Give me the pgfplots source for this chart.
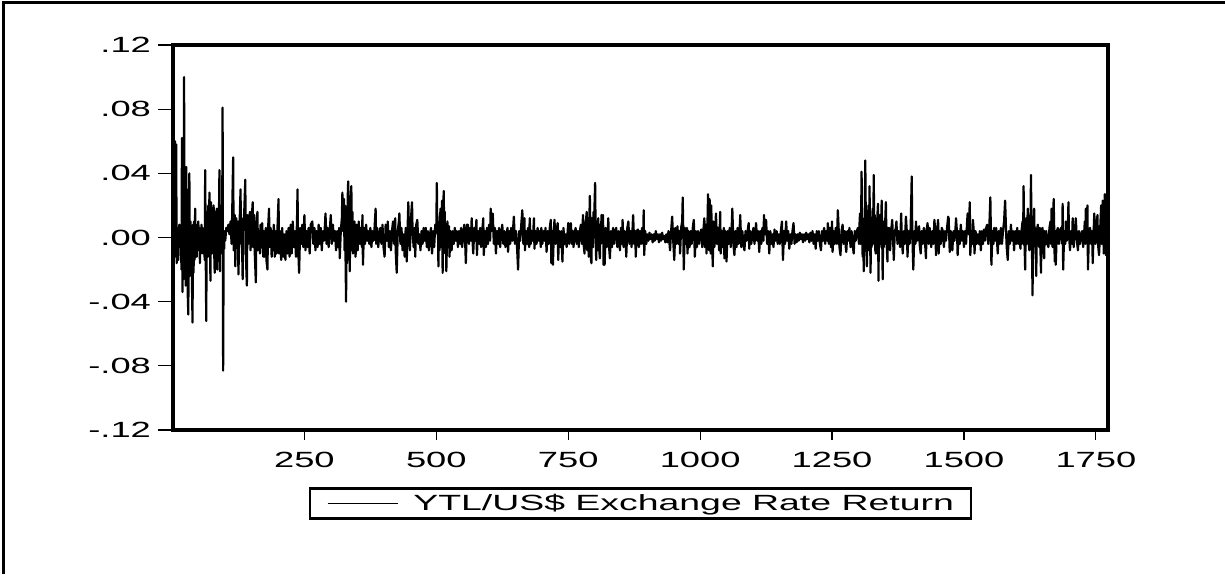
\documentclass[border=0pt]{standalone}
\usepackage{pgfplots}
\pgfplotsset{compat=1.18}
\usepackage{fontspec}
\setmainfont{Liberation Sans}[FakeStretch=1.65]
\newfontfamily\legfont{Liberation Sans}[FakeStretch=1.70]

\begin{document}
\begin{tikzpicture}
\path[use as bounding box] (0,0) rectangle (612.5pt,287pt);
\draw[line width=1.4pt] (1.6pt,0pt) -- (1.6pt,285.7pt) -- (612.5pt,285.7pt);
\begin{axis}[
  scale only axis,
  width=467.5pt, height=192.5pt,
  at={(86.5pt,72pt)}, anchor=south west,
  xmin=1, xmax=1773,
  ymin=-0.12, ymax=0.12,
  axis line style={line width=1.8pt},
  tick align=outside,
  tick pos=left,
  major tick length=7.5pt,
  tick style={line width=0.55pt, black},
  xtick style={/pgfplots/major tick length=5pt},
  xtick={250,500,750,1000,1250,1500,1750},
  xticklabels={250,500,750,1000,1250,1500,1750},
  ytick={-0.12,-0.08,-0.04,0,0.04,0.08,0.12},
  yticklabels={-.12,-.08,-.04,.00,.04,.08,.12},
  ticklabel style={font=\fontsize{11}{13}\selectfont},
  every axis legend/.append style={line width=1.4pt},
  legend style={
    at={(0.5,-0.148)}, anchor=north,
    draw=black, line width=1.4pt,
    inner xsep=8.5pt, inner ysep=2.8pt,
    nodes={inner sep=0pt},
    column sep=7.5pt,
    font=\legfont\fontsize{11}{13}\selectfont,
  },
  legend image code/.code={\draw[line width=0.65pt, black] (0pt,0pt) -- (35pt,0pt);},
]
% daily returns
\addplot[black, line width=1.1pt, line join=round] coordinates {
(1,0.004)(2,-0.018)(4,0.02)(5,0.060)(6,-0.012)(7,0.058)(8,-0.016)(10,0.006)(11,-0.014)(13,0.008)(14,-0.006)(16,0.004)(17,-0.020)(18,0.062)(19,-0.034)(20,0.010)(21,-0.026)(22,0.100)(23,-0.024)(24,0.006)(25,-0.030)(26,0.044)(27,-0.020)(28,0.030)(29,-0.036)(30,-0.048)(31,0.012)(32,0.040)(33,-0.024)(34,0.010)(35,-0.022)(36,0.004)(37,-0.030)(38,-0.053)(39,0.008)(40,-0.022)(41,0.010)(42,-0.014)(43,0.018)(44,-0.004)(45,0.008)(46,-0.012)(47,0.006)(48,-0.008)(49,0.010)(50,-0.006)(51,0.006)(52,-0.016)(53,0.004)(54,-0.010)(55,0.008)(56,-0.004)(57,0.006)(58,-0.010)(59,0.004)(60,0.002)(61,-0.014)(62,0.042)(63,-0.010)(64,-0.052)(65,0.010)(66,0.016)(67,-0.012)(68,0.020)(69,-0.010)(70,0.028)(71,-0.006)(72,-0.027)(73,0.022)(74,0.012)(75,-0.010)(76,0.018)(77,-0.004)(78,0.020)(79,-0.008)(80,-0.022)(81,0.016)(82,0.006)(83,-0.012)(84,0.018)(85,-0.020)(86,0.014)(87,-0.006)(88,0.010)(89,0.042)(90,-0.021)(91,0.020)(92,-0.010)(93,0.006)(94,-0.008)(95,0.081)(96,-0.083)(97,-0.004)(98,-0.007)(99,0.004)(100,-0.002)
(102,0.006)(104,0.004)(106,0.008)(108,0.002)(110,0.010)(112,-0.004)(113,0.012)(115,0.050)(116,-0.008)(118,0.014)(119,-0.018)(121,0.012)(122,-0.006)(124,0.010)(125,-0.023)(127,0.006)(129,0.030)(130,-0.004)(131,0.012)(133,-0.026)(134,0.006)(136,0.016)(138,0.036)(139,-0.010)(141,-0.030)(142,0.014)(144,-0.004)(145,0.012)(147,0.016)(148,-0.008)(150,0.010)(152,0.022)(153,-0.006)(155,0.014)(156,-0.010)(158,-0.028)(159,0.006)(161,0.016)(162,-0.008)(164,0.004)(166,-0.010)(167,0.008)(169,-0.006)(170,0.009)(172,-0.012)(173,0.004)(175,-0.012)(177,0.006)(178,-0.014)(180,-0.020)(181,0.004)(183,0.018)(184,-0.006)(186,0.006)(188,-0.012)(189,0.004)(191,-0.008)(192,0.008)(194,-0.012)(196,0.004)(197,-0.010)(199,0.006)(201,0.024)(202,-0.010)
(204,0.004)(206,-0.014)(208,0.006)(210,-0.012)(212,0.002)(214,-0.014)(216,0.004)(218,-0.010)(220,0.006)(222,-0.012)(224,0.008)(226,-0.010)(228,0.010)(230,-0.006)(232,0.004)(234,-0.012)(236,0.010)(237,0.030)(238,-0.004)(240,-0.022)(242,0.006)(244,-0.004)(246,0.008)(248,-0.006)(250,0.014)(252,-0.008)(254,0.004)(256,-0.006)(258,0.006)(260,-0.010)(262,0.008)(265,0.010)(267,-0.004)(269,0.006)(271,-0.008)(273,0.004)(275,-0.006)(277,0.008)(279,-0.004)(281,0.006)(283,-0.008)(285,0.004)(287,-0.002)(289,0.008)(290,0.015)(292,-0.004)(294,0.006)(296,-0.006)(298,0.004)(300,0.014)(302,-0.004)(304,0.008)(306,-0.002)(308,0.004)(310,-0.008)(312,0.004)(314,-0.006)(316,0.006)(317,-0.013)(319,0.004)
(321,0.012)(322,0.028)(323,0.004)(324,0.016)(325,0.024)(326,-0.008)(327,0.020)(328,-0.012)(329,-0.040)(330,0.010)(331,-0.016)(332,0.024)(333,0.035)(334,-0.004)(335,0.018)(336,-0.021)(337,0.012)(338,0.026)(339,0.032)(340,-0.008)(341,0.016)(342,-0.010)(344,0.006)(345,0.010)(347,-0.012)
(349,0.008)(351,-0.008)(353,0.010)(355,-0.004)(357,0.006)(359,-0.006)(360,0.014)(361,-0.017)(363,0.006)(365,-0.004)(367,0.008)(369,-0.002)(371,0.004)(373,-0.004)(375,0.006)(377,-0.006)(379,0.004)(381,-0.002)(383,0.006)(385,0.018)(386,-0.004)(388,0.006)(390,-0.006)(392,0.002)(394,0.006)(396,-0.004)(398,0.008)(400,-0.006)(402,-0.012)(404,0.008)(406,-0.002)(408,0.010)(410,-0.006)(412,0.004)(414,-0.008)(416,0.004)(418,0.010)(420,-0.004)(422,0.012)(423,-0.008)(425,-0.022)(427,0.004)(429,0.010)(430,0.015)(432,-0.004)(434,0.006)(436,-0.008)(438,0.002)(440,-0.012)(442,0.006)(444,-0.015)(446,0.010)(447,0.022)(448,0.006)(450,-0.008)(452,0.012)(454,0.022)(455,0.004)(457,-0.006)(459,0.006)(460,-0.012)(462,0.008)(464,0.011)(466,-0.004)(468,0.002)(470,-0.008)(472,0.004)(474,-0.004)(476,0.006)(478,-0.002)(480,0.006)(482,-0.006)(484,0.004)(486,-0.008)(488,0.002)(490,0.006)(492,-0.010)(494,0.004)(496,-0.006)(498,0.008)
(500,0.006)(501,0.034)(502,0.002)(503,0.010)(504,-0.018)(505,0.006)(506,-0.008)(507,0.012)(508,0.018)(509,-0.006)(510,0.012)(511,0.023)(512,-0.022)(513,0.012)(514,0.029)(515,0.004)(516,0.016)(517,-0.010)(518,0.006)(519,-0.021)(521,0.010)(522,-0.006)(524,0.007)(525,-0.012)(527,0.004)(529,-0.008)
(531,0.004)(533,-0.004)(535,0.006)(537,-0.002)(539,0.004)(541,-0.006)(543,0.004)(545,-0.004)(547,0.006)(549,-0.006)(551,0.002)(553,0.008)(555,-0.006)(556,-0.016)(558,0.008)(560,0.008)(562,-0.004)(564,0.006)(566,-0.002)(567,0.012)(569,-0.004)(570,-0.010)(572,0.006)(574,-0.002)(576,0.011)(577,-0.011)(579,0.004)(581,-0.004)(583,0.006)(585,-0.006)(587,0.004)(589,0.012)(590,-0.011)(592,0.004)(594,-0.006)(596,0.006)(598,-0.004)(600,0.008)(602,-0.002)(603,0.018)(605,0.004)(607,0.015)(609,-0.004)(611,0.006)(613,-0.010)(615,0.004)(617,-0.004)(619,0.006)(621,-0.006)(623,0.002)(625,0.008)(627,-0.004)(629,0.004)(631,-0.006)(633,0.002)(635,0.006)(636,-0.009)(638,0.004)(640,-0.004)(642,0.006)(644,-0.002)(646,0.008)(647,0.013)(649,-0.004)(651,0.004)(653,-0.006)(655,-0.020)(657,0.004)(659,-0.002)(661,0.008)(663,0.017)(665,-0.004)(667,0.012)(668,-0.008)(670,0.004)(672,-0.004)(674,0.006)(676,-0.006)(677,0.012)(679,-0.004)(681,0.004)(683,-0.002)(685,0.012)(686,-0.007)(688,0.004)(690,-0.004)(692,0.006)(694,-0.002)(696,0.004)(698,-0.006)(699,0.006)(701,-0.004)(703,0.004)(705,-0.002)(707,0.006)(709,-0.009)(711,0.004)(713,-0.004)(715,0.006)(717,0.011)(718,-0.016)(720,0.004)(721,-0.017)(723,0.006)(724,0.011)(726,-0.004)(728,0.004)(730,0.009)(731,-0.014)(733,0.004)(735,-0.006)(737,0.004)(739,-0.015)(741,0.006)(743,-0.004)(745,0.002)(747,-0.006)(749,0.004)(750,0.009)(752,-0.004)(754,0.006)(755,0.009)(757,-0.004)(759,0.004)(760,-0.006)(762,0.002)(764,0.006)(766,-0.004)(768,0.004)(770,-0.006)(772,0.004)(774,0.008)(776,-0.004)
(778,0.014)(779,-0.004)(781,-0.010)(782,0.008)(784,0.012)(785,0.016)(786,-0.008)(788,0.012)(789,-0.012)(790,0.010)(791,0.026)(792,0.004)(793,-0.014)(794,-0.016)(795,0.012)(797,-0.006)(798,0.016)(799,0.004)(800,0.022)(801,0.034)(802,0.002)(803,-0.014)(804,0.010)(806,-0.008)(807,0.012)(808,-0.004)(810,-0.013)(811,0.008)(812,-0.004)(813,0.014)(814,0.004)(816,0.014)(817,-0.017)(818,0.004)(819,-0.017)(821,0.006)(823,-0.006)(825,0.004)(826,0.012)(827,-0.004)(829,-0.013)(831,0.004)
(833,-0.006)(835,0.006)(837,-0.004)(839,0.004)(841,0.006)(843,-0.006)(845,0.004)(847,-0.002)(848,-0.008)(850,0.006)(852,-0.004)(853,0.011)(855,-0.006)(857,0.004)(859,-0.002)(860,-0.012)(862,0.006)(864,0.010)(866,-0.004)(868,0.004)(870,-0.006)(872,0.006)(873,0.014)(875,-0.004)(877,0.004)(878,-0.012)(880,0.004)(882,0.005)(884,-0.006)(886,0.004)(888,-0.004)(890,0.006)(892,-0.004)(893,0.017)(894,-0.011)(896,0.004)(898,-0.004)(900,0.002)
(902,-0.002)(904,0.003)(906,-0.001)(908,0.002)(910,-0.003)(912,0.002)(914,-0.002)(916,0.004)(918,-0.001)(920,0.002)(922,-0.003)(924,0.002)(926,-0.002)(928,0.003)(930,-0.001)(932,0.001)(934,-0.003)(936,0.002)(938,-0.003)
(940,0.004)(942,-0.004)(943,-0.008)(945,0.004)(947,0.013)(949,-0.002)(951,-0.014)(953,0.006)(955,-0.004)(957,0.007)(959,-0.004)(961,0.004)(962,-0.010)(964,0.006)(966,0.010)(967,0.025)(968,0.004)(969,-0.020)(971,0.006)(973,-0.004)(975,0.006)(976,-0.010)(978,0.004)(980,-0.006)(982,0.004)(984,-0.004)(986,0.006)(988,0.011)(990,-0.012)(992,0.004)(994,-0.006)(996,0.004)(998,-0.004)(1000,0.002)(1002,0.005)(1004,-0.006)(1006,0.004)(1008,0.012)(1009,-0.006)(1011,0.008)(1012,-0.010)(1014,0.010)(1015,0.027)(1016,0.002)(1017,-0.008)(1018,0.024)(1019,0.004)(1020,-0.010)(1021,0.020)(1022,0.006)(1024,-0.018)(1025,0.010)(1027,-0.006)(1029,0.008)(1030,0.015)(1032,-0.004)(1034,0.006)(1036,-0.008)(1038,0.016)(1039,-0.010)(1041,0.004)(1043,-0.006)(1045,0.006)(1046,-0.013)(1048,0.004)(1050,-0.015)(1052,0.004)(1054,-0.004)(1056,0.006)(1058,-0.006)(1060,0.008)(1061,0.018)(1063,-0.004)(1065,-0.011)(1067,0.004)(1069,-0.006)(1071,0.006)(1073,-0.004)(1075,0.006)(1076,0.014)(1078,-0.006)(1080,0.004)
(1082,-0.004)(1084,-0.008)(1086,0.004)(1088,-0.002)(1090,0.004)(1092,0.009)(1093,-0.007)(1095,0.004)(1097,-0.004)(1099,0.002)(1101,0.006)(1103,-0.004)(1105,0.004)(1106,0.009)(1108,-0.002)(1110,0.004)(1112,-0.009)(1114,0.004)(1116,-0.004)(1118,0.006)(1120,-0.002)(1121,0.014)(1123,0.002)(1125,0.011)(1127,-0.004)(1129,0.004)(1131,-0.010)(1133,0.004)(1135,-0.004)(1137,0.002)(1139,-0.006)(1141,0.005)(1143,-0.002)(1145,0.004)(1147,-0.004)(1149,0.002)(1151,-0.004)(1153,0.004)(1155,0.010)(1157,-0.014)(1159,0.004)(1161,-0.004)(1163,0.010)(1165,-0.002)(1167,0.004)(1169,-0.007)(1171,0.002)(1173,-0.004)(1175,0.004)(1177,0.009)(1179,-0.004)(1181,0.002)(1183,-0.003)(1185,0.002)(1187,-0.002)(1189,0.003)(1191,-0.001)(1193,0.002)(1195,-0.003)(1197,0.002)(1199,-0.002)(1201,0.003)(1203,-0.001)(1205,0.002)(1207,-0.003)(1209,0.003)(1211,-0.002)(1213,0.004)(1215,-0.004)(1217,0.002)(1219,-0.007)(1221,0.004)(1223,-0.002)(1225,0.004)(1227,-0.004)(1229,-0.008)(1231,0.004)(1233,-0.002)(1235,0.006)(1237,-0.004)(1239,0.004)(1241,-0.002)(1242,0.009)(1244,-0.004)(1246,0.006)(1248,-0.006)(1250,0.010)(1251,-0.009)(1253,0.004)(1255,-0.004)(1257,0.006)(1259,-0.004)(1261,0.017)(1263,0.002)(1264,-0.006)(1266,-0.011)(1268,0.004)(1270,0.008)(1272,-0.004)(1274,0.004)(1276,-0.006)(1277,-0.009)(1279,0.004)(1281,-0.002)(1283,0.006)(1285,-0.006)(1287,0.004)(1289,-0.004)(1291,-0.010)(1293,0.004)(1295,-0.002)(1297,0.004)(1299,0.006)(1301,-0.004)
(1302,0.008)(1303,0.015)(1304,-0.004)(1305,0.010)(1306,0.041)(1307,0.002)(1308,-0.012)(1309,0.010)(1310,-0.021)(1311,0.012)(1312,0.004)(1313,0.048)(1314,0.010)(1315,-0.006)(1316,-0.018)(1317,0.014)(1318,0.006)(1319,0.020)(1320,-0.008)(1321,0.032)(1322,0.004)(1323,-0.022)(1324,0.012)(1325,-0.006)(1326,0.010)(1327,0.018)(1328,-0.004)(1329,0.039)(1330,0.002)(1331,0.014)(1332,-0.008)(1333,-0.010)(1334,0.012)(1335,0.004)(1336,0.014)(1337,0.021)(1338,-0.027)(1339,0.010)(1340,-0.006)(1341,0.014)(1342,0.008)(1343,-0.004)(1344,0.023)(1345,0.002)(1346,-0.026)(1347,0.010)(1348,-0.006)(1349,0.008)(1350,-0.004)(1351,0.012)(1352,0.022)(1353,0.002)(1354,-0.008)(1355,-0.015)(1356,0.006)(1357,-0.004)(1358,0.006)(1360,-0.008)
(1362,0.004)(1364,0.011)(1366,-0.004)(1367,-0.014)(1369,0.004)(1371,0.006)(1372,0.010)(1374,-0.004)(1376,0.004)(1378,-0.002)(1379,-0.006)(1381,0.015)(1382,0.002)(1384,-0.010)(1386,0.004)(1388,-0.004)(1390,0.013)(1392,0.002)(1393,-0.012)(1395,0.004)(1397,-0.004)(1399,0.006)(1401,0.038)(1402,0.004)(1404,-0.020)(1406,0.004)(1408,-0.004)(1409,0.010)(1411,-0.002)(1413,0.004)(1415,0.007)(1416,-0.004)(1418,-0.010)(1420,0.004)(1422,-0.004)(1424,0.006)(1426,-0.002)(1428,-0.013)(1429,0.004)(1431,0.009)(1433,-0.004)(1435,0.006)(1437,-0.002)(1438,-0.006)(1440,0.004)(1442,-0.004)(1444,0.011)(1446,0.002)(1447,-0.011)(1449,0.004)
(1451,0.011)(1452,-0.010)(1454,0.004)(1456,-0.004)(1458,0.006)(1460,0.004)(1462,-0.006)(1464,0.004)(1466,-0.002)(1468,0.006)(1470,0.013)(1471,0.012)(1473,-0.009)(1475,0.004)(1477,-0.004)(1478,-0.008)(1480,0.004)(1482,-0.002)(1484,0.006)(1485,0.012)(1487,0.002)(1488,-0.011)(1490,0.004)(1492,-0.004)(1494,0.008)(1496,-0.002)(1498,0.004)(1500,-0.006)(1502,0.004)(1504,-0.004)(1506,0.010)(1507,0.015)(1509,0.002)(1511,0.022)(1512,-0.011)(1514,0.004)(1516,-0.004)(1517,0.011)(1519,0.002)(1520,-0.010)(1522,0.004)(1524,-0.004)(1526,0.002)(1528,-0.004)(1530,0.004)(1532,-0.008)(1534,0.004)(1536,-0.004)(1538,0.005)(1540,-0.002)(1542,0.006)(1544,0.008)(1546,-0.004)(1548,0.006)(1550,0.025)(1552,-0.017)(1554,0.004)(1556,-0.004)(1557,0.006)(1559,-0.002)(1561,0.006)(1563,-0.004)(1564,-0.010)(1566,0.004)(1568,-0.004)(1570,0.006)(1572,-0.004)(1574,0.004)(1576,0.010)(1578,0.023)(1580,0.002)(1581,-0.006)(1583,-0.014)(1585,0.004)(1587,-0.004)(1589,0.008)(1591,-0.002)(1593,0.004)(1595,-0.008)(1597,0.004)(1599,-0.004)(1601,0.006)
(1603,-0.004)(1605,0.004)(1607,-0.007)(1609,0.004)(1611,0.010)(1612,-0.004)(1613,0.032)(1614,0.004)(1615,-0.006)(1616,-0.020)(1617,0.006)(1618,0.012)(1619,-0.004)(1620,0.008)(1621,0.018)(1622,0.002)(1623,-0.004)(1624,-0.008)(1625,0.010)(1626,0.004)(1627,0.039)(1628,0.006)(1629,-0.010)(1630,-0.036)(1631,0.004)(1632,0.010)(1633,0.018)(1634,-0.004)(1635,0.006)(1636,-0.010)(1637,-0.024)(1638,0.004)(1640,0.008)(1641,-0.004)(1643,-0.006)(1644,0.006)(1645,-0.008)(1646,-0.022)(1647,0.004)(1649,0.006)(1650,-0.004)(1652,-0.013)(1653,0.004)(1655,-0.004)(1656,0.004)(1658,-0.004)(1660,-0.006)(1662,0.006)(1664,0.010)(1665,-0.004)(1666,0.018)(1667,0.004)(1668,-0.006)(1670,0.024)(1671,0.006)(1672,-0.015)(1673,0.004)(1674,-0.017)(1676,0.004)(1678,0.006)(1680,-0.004)
(1682,0.004)(1684,0.006)(1686,-0.004)(1687,0.021)(1688,-0.020)(1690,0.004)(1692,-0.004)(1693,0.010)(1695,-0.002)(1697,0.006)(1698,0.022)(1699,0.002)(1701,-0.008)(1703,0.004)(1705,-0.004)(1706,0.012)(1708,-0.006)(1710,0.004)(1712,0.012)(1714,-0.002)(1716,-0.008)(1718,0.004)(1720,-0.004)(1722,0.002)(1724,0.004)(1726,-0.006)(1728,0.004)(1729,0.010)(1730,-0.004)(1731,0.018)(1732,0.004)(1734,0.020)(1735,-0.020)(1737,0.004)(1739,0.006)(1741,-0.004)(1743,0.004)(1744,-0.016)(1746,0.006)(1747,0.015)(1749,-0.004)(1751,0.006)(1753,0.014)(1754,-0.004)(1756,-0.011)(1758,0.004)(1760,0.020)(1761,-0.004)(1763,0.023)(1764,0.004)(1765,-0.010)(1767,0.027)(1768,0.004)(1769,-0.011)(1771,0.026)(1772,-0.008)(1773,0.010)
};
\addlegendentry{YTL/US\$ Exchange Rate Return}
\end{axis}
\end{tikzpicture}
\end{document}
